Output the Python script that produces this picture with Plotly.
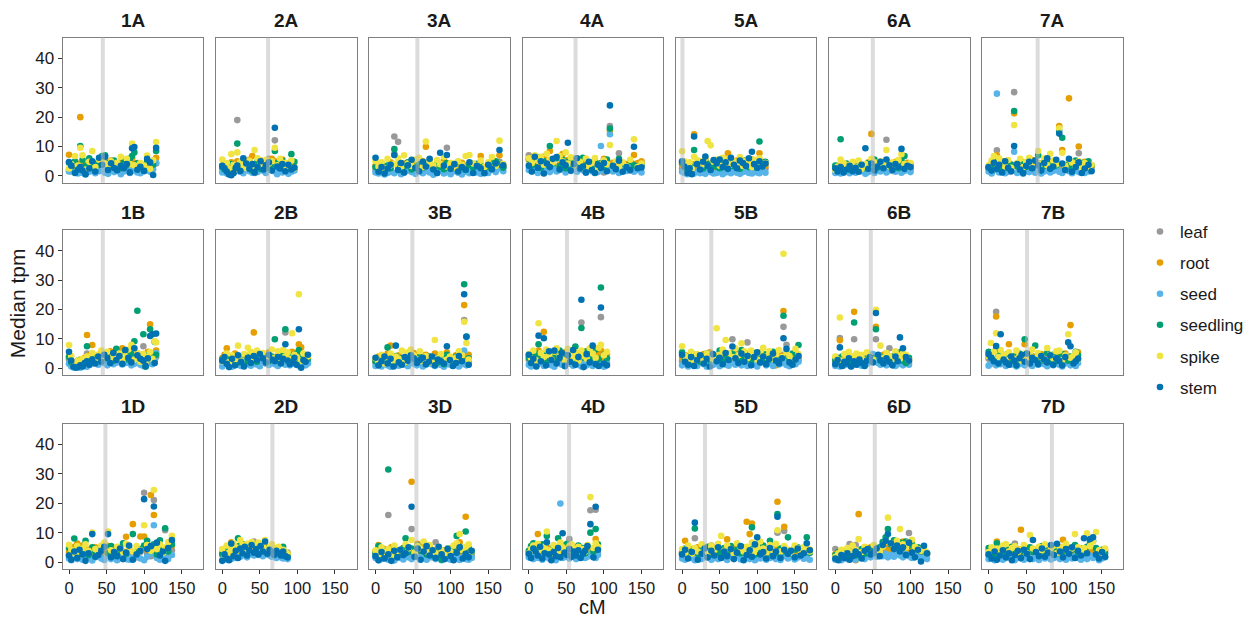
import plotly.graph_objects as go

# ---------------- data (cM position of each gene, median tpm per tissue) ----------------
CHROMS = ["1A", "2A", "3A", "4A", "5A", "6A", "7A",
          "1B", "2B", "3B", "4B", "5B", "6B", "7B",
          "1D", "2D", "3D", "4D", "5D", "6D", "7D"]
TISSUES = ["leaf", "root", "seed", "seedling", "spike", "stem"]
CENTROMERE = [45.0, 61.0, 55.7, 62.2, 0.5, 49.9, 65.3,
              45.0, 61.0, 49.0, 50.8, 38.9, 47.2, 51.2,
              48.5, 66.7, 54.4, 53.6, 30.5, 52.5, 84.3]
X_TICKS = [0, 50, 100, 150]
Y_TICKS = [0, 10, 20, 30, 40]

cm_1A = [0, 3, 8, 12, 15, 18, 22, 27, 31, 35, 40, 44, 48, 52, 56, 60, 64, 69, 73, 77, 81, 84, 87, 91, 95, 100, 104, 108, 112, 116]
leaf_1A = [2.0, 1.5, 2.5, 1.8, 3.0, 2.2, 1.2, 2.8, 3.5, 2.0, 2.6, 1.9, 3.2, 2.4, 2.9, 1.7, 3.1, 2.5, 2.0, 3.4, 2.7, 4.0, 2.2, 3.0, 1.8, 2.6, 3.3, 2.1, 3.6, 4.2]
root_1A = [7.2, 3.0, 2.5, 4.1, 20.0, 3.6, 2.8, 4.5, 3.9, 2.6, 5.0, 4.4, 5.6, 3.7, 5.2, 4.8, 3.3, 4.6, 5.5, 3.0, 4.2, 5.9, 3.8, 4.4, 2.9, 3.5, 4.7, 3.1, 5.0, 6.2]
seed_1A = [1.5, 2.0, 1.2, 0.8, 1.8, 1.0, 0.5, 1.4, 2.2, 0.9, 1.6, 2.5, 1.1, 0.7, 1.9, 1.3, 2.1, 0.6, 1.5, 2.4, 1.0, 1.7, 2.8, 1.2, 0.9, 1.6, 2.0, 1.4, 2.3, 4.5]
seedling_1A = [4.5, 3.2, 5.0, 2.8, 10.2, 5.5, 3.5, 6.0, 2.9, 4.1, 3.7, 6.8, 7.0, 4.4, 3.1, 5.2, 4.0, 2.6, 4.8, 3.6, 5.9, 6.8, 8.0, 4.3, 3.0, 2.5, 5.1, 4.6, 3.8, 8.5]
spike_1A = [2.5, 4.0, 6.8, 3.5, 9.6, 7.0, 2.2, 4.8, 8.5, 3.0, 5.5, 6.0, 4.2, 3.8, 5.0, 2.7, 4.5, 6.5, 3.2, 5.8, 4.0, 11.0, 3.6, 2.9, 4.4, 3.5, 6.9, 2.4, 5.3, 11.5]
stem_1A = [4.7, 3.5, 1.0, 2.2, 3.0, 1.8, 0.6, 2.5, 5.0, 1.5, 6.2, 3.8, 6.5, 2.0, 4.3, 2.7, 1.9, 3.4, 2.6, 4.0, 1.2, 9.4, 9.8, 2.1, 3.1, 1.7, 5.8, 4.6, 0.3, 9.6]

cm_2A = [0, 3, 6, 9, 12, 15, 18, 20, 24, 28, 32, 36, 40, 43, 47, 51, 55, 58, 62, 66, 70, 73, 77, 80, 84, 88, 92, 96]
leaf_2A = [2.5, 3.0, 1.8, 2.2, 3.5, 2.0, 2.8, 19.0, 1.5, 3.8, 2.4, 4.2, 3.0, 1.0, 2.6, 3.3, 2.1, 4.5, 5.8, 3.1, 12.1, 3.7, 2.9, 3.2, 4.0, 2.5, 3.6, 2.2]
root_2A = [3.5, 4.2, 2.8, 3.0, 4.6, 2.5, 3.3, 5.0, 3.8, 4.1, 2.9, 5.5, 6.8, 3.6, 4.4, 5.2, 3.1, 4.7, 3.9, 5.8, 5.0, 4.3, 3.4, 5.6, 4.0, 3.2, 4.8, 3.0]
seed_2A = [1.2, 2.0, 0.8, 1.5, 2.4, 1.0, 1.8, 2.2, 1.4, 0.9, 2.6, 1.6, 1.1, 2.0, 1.3, 2.8, 1.7, 1.0, 3.0, 2.1, 1.5, 0.6, 2.3, 1.2, 1.9, 0.7, 1.4, 1.8]
seedling_2A = [3.0, 2.2, 3.8, 1.5, 4.0, 2.6, 3.4, 11.0, 2.0, 3.2, 4.5, 2.8, 1.8, 3.6, 5.0, 2.4, 4.2, 3.0, 2.7, 3.9, 8.5, 4.4, 3.1, 5.2, 2.9, 3.5, 7.4, 4.8]
spike_2A = [5.6, 3.0, 4.4, 2.5, 7.4, 3.8, 2.0, 8.0, 4.6, 3.2, 2.7, 5.1, 3.5, 8.8, 6.0, 4.0, 3.0, 5.5, 4.2, 5.0, 9.6, 3.6, 5.8, 2.8, 4.5, 3.3, 5.2, 2.6]
stem_2A = [3.4, 2.6, 1.5, 0.5, 0.2, 1.0, 2.8, 3.5, 1.7, 6.0, 4.2, 2.4, 4.0, 1.2, 3.0, 5.0, 2.2, 3.6, 4.6, 1.8, 16.4, 3.2, 2.5, 4.0, 1.6, 3.8, 2.2, 2.8]

cm_3A = [0, 4, 8, 12, 16, 20, 25, 30, 34, 38, 43, 48, 53, 58, 63, 67, 72, 77, 82, 86, 91, 95, 100, 105, 110, 115, 120, 125, 130, 135, 140, 145, 150, 155, 160, 165, 170]
leaf_3A = [2.0, 1.5, 2.8, 3.0, 1.2, 2.4, 13.4, 11.6, 2.2, 3.1, 1.8, 2.6, 3.4, 2.0, 1.6, 2.9, 3.3, 1.4, 2.5, 3.0, 2.1, 9.6, 2.7, 1.9, 3.2, 2.3, 1.7, 2.8, 3.5, 2.0, 1.5, 2.6, 3.8, 2.2, 4.4, 4.8, 3.0]
root_3A = [3.5, 2.8, 4.0, 2.2, 3.3, 4.6, 7.4, 3.0, 2.5, 4.2, 3.6, 2.9, 4.8, 3.4, 5.0, 9.9, 3.8, 2.7, 4.4, 3.2, 5.1, 3.9, 2.6, 4.0, 3.0, 4.5, 3.5, 2.4, 4.1, 3.7, 6.8, 2.9, 3.4, 4.6, 3.1, 7.0, 3.3]
seed_3A = [1.2, 0.8, 1.6, 0.5, 1.0, 1.4, 0.9, 1.8, 0.6, 1.1, 2.0, 1.3, 0.7, 1.5, 0.9, 1.7, 1.2, 0.4, 1.0, 1.9, 0.8, 1.3, 0.6, 1.6, 1.1, 0.5, 1.4, 0.9, 1.8, 1.2, 0.7, 1.5, 1.0, 2.1, 1.3, 2.5, 1.6]
seedling_3A = [3.0, 2.4, 4.2, 1.8, 3.5, 2.6, 9.1, 3.8, 2.0, 3.3, 4.6, 2.2, 3.0, 4.0, 2.8, 3.6, 5.2, 2.5, 3.9, 3.1, 2.3, 4.4, 3.4, 2.7, 4.8, 3.2, 2.1, 3.7, 2.9, 4.1, 3.5, 2.6, 3.0, 4.3, 5.0, 3.8, 2.8]
spike_3A = [5.0, 3.2, 4.6, 2.6, 5.8, 3.6, 4.0, 6.0, 2.8, 7.0, 4.2, 3.4, 5.6, 6.2, 3.0, 11.7, 4.8, 3.5, 5.4, 4.0, 6.5, 3.2, 4.4, 2.9, 5.0, 3.8, 6.8, 7.1, 4.2, 3.6, 5.2, 3.0, 4.6, 6.4, 3.4, 12.0, 4.0]
stem_3A = [6.2, 1.4, 3.0, 0.8, 2.5, 3.8, 7.1, 2.0, 4.4, 1.2, 3.6, 5.5, 2.8, 1.6, 4.8, 3.2, 5.8, 2.2, 1.0, 7.9, 3.5, 7.1, 2.4, 4.0, 1.5, 3.0, 2.1, 4.6, 1.0, 3.4, 2.6, 0.9, 3.8, 2.3, 4.2, 8.8, 3.6]

cm_4A = [0, 4, 8, 12, 16, 20, 24, 28, 32, 37, 41, 45, 49, 52, 56, 60, 64, 68, 72, 76, 80, 84, 88, 92, 96, 100, 104, 108, 112, 116, 120, 125, 130, 135, 140, 145, 150]
leaf_4A = [7.0, 2.5, 3.4, 1.8, 2.8, 3.6, 2.2, 4.0, 3.0, 1.6, 2.7, 3.3, 2.0, 4.2, 2.4, 3.1, 1.9, 2.6, 3.5, 2.1, 3.8, 2.9, 1.5, 3.2, 2.3, 1.2, 2.8, 17.0, 3.4, 2.0, 7.7, 2.6, 3.0, 1.8, 4.0, 2.5, 3.6]
root_4A = [5.5, 6.2, 4.0, 5.0, 3.6, 6.5, 4.4, 8.5, 5.2, 6.0, 3.8, 7.4, 4.6, 5.4, 3.2, 4.8, 6.0, 3.5, 5.0, 4.2, 2.8, 4.6, 5.3, 3.0, 4.1, 5.8, 3.4, 15.3, 4.5, 2.9, 5.2, 3.8, 4.0, 3.2, 7.1, 4.4, 5.0]
seed_4A = [2.0, 1.5, 2.6, 1.0, 2.2, 1.8, 2.9, 1.3, 2.4, 1.6, 2.0, 2.8, 1.2, 2.5, 1.7, 2.1, 1.4, 2.7, 1.9, 1.1, 2.3, 1.6, 2.0, 1.3, 10.2, 1.8, 2.6, 14.2, 1.5, 2.2, 1.0, 2.4, 1.7, 2.9, 1.4, 2.0, 1.2]
seedling_4A = [5.8, 3.6, 4.5, 6.4, 2.8, 5.0, 3.9, 10.2, 4.2, 6.0, 3.3, 5.5, 2.6, 4.8, 3.7, 5.2, 4.0, 2.9, 6.2, 3.5, 4.6, 2.4, 5.0, 3.8, 4.4, 3.1, 5.6, 16.1, 3.4, 2.7, 5.8, 4.2, 3.0, 4.9, 3.6, 2.8, 3.9]
spike_4A = [6.0, 4.4, 7.0, 5.2, 6.5, 3.8, 7.5, 5.6, 4.6, 11.9, 6.8, 5.0, 8.0, 4.2, 6.3, 3.6, 5.4, 4.8, 2.8, 5.9, 3.2, 4.5, 6.1, 2.6, 3.9, 5.3, 4.0, 10.5, 3.5, 5.0, 2.9, 4.6, 3.3, 5.5, 12.5, 3.0, 4.2]
stem_4A = [3.5, 1.5, 6.5, 2.8, 5.0, 0.8, 4.2, 3.0, 5.8, 6.4, 2.2, 4.6, 3.6, 11.3, 1.8, 4.0, 6.0, 2.5, 3.2, 1.2, 4.8, 2.0, 1.0, 3.8, 2.7, 4.4, 1.6, 24.0, 3.4, 2.3, 5.2, 1.4, 3.0, 2.0, 9.9, 2.6, 2.9]

cm_5A = [0, 3, 7, 10, 13, 16, 20, 24, 28, 31, 34, 38, 42, 46, 50, 54, 58, 61, 65, 69, 73, 77, 81, 85, 89, 93, 96, 100, 103, 107, 111]
leaf_5A = [2.6, 1.8, 3.0, 2.2, 1.5, 3.4, 2.0, 2.7, 1.4, 3.1, 2.4, 1.9, 2.8, 3.5, 2.1, 1.6, 2.9, 3.2, 2.3, 1.7, 2.6, 3.0, 1.9, 2.5, 3.3, 2.0, 1.5, 2.8, 2.2, 3.6, 2.4]
root_5A = [3.8, 4.4, 3.0, 2.5, 4.0, 14.2, 3.5, 4.8, 2.9, 5.5, 3.6, 4.2, 3.2, 5.0, 2.7, 4.6, 3.4, 7.7, 4.1, 3.0, 5.2, 3.7, 2.8, 4.5, 3.3, 5.6, 4.0, 3.1, 7.7, 4.8, 3.5]
seed_5A = [1.4, 1.0, 0.6, 1.8, 1.2, 0.8, 1.5, 0.9, 1.1, 0.7, 1.6, 1.3, 0.8, 1.0, 1.7, 0.6, 1.2, 1.4, 0.9, 1.5, 1.1, 0.7, 1.3, 1.6, 1.0, 0.8, 1.4, 1.2, 0.9, 1.7, 1.1]
seedling_5A = [4.5, 3.0, 2.2, 3.6, 2.8, 8.8, 4.2, 3.4, 2.5, 5.0, 3.8, 2.9, 4.4, 3.1, 2.6, 4.8, 3.5, 2.7, 5.2, 3.3, 4.0, 2.4, 3.9, 5.4, 3.0, 4.6, 3.7, 2.8, 11.7, 3.4, 4.8]
spike_5A = [8.4, 5.0, 3.6, 4.6, 2.4, 6.5, 5.4, 3.2, 4.0, 6.0, 11.9, 10.4, 4.8, 5.6, 3.5, 6.2, 4.4, 5.8, 3.8, 5.0, 4.2, 6.4, 3.4, 5.2, 4.6, 3.0, 5.5, 4.0, 6.0, 3.6, 4.4]
stem_5A = [5.0, 3.2, 1.0, 2.6, 0.6, 13.4, 4.0, 2.2, 4.8, 6.6, 3.5, 2.0, 5.4, 4.2, 5.6, 3.0, 4.6, 2.4, 6.2, 3.8, 2.6, 5.2, 4.4, 3.4, 6.0, 8.2, 4.0, 2.8, 5.0, 3.2, 4.2]

cm_6A = [0, 3, 7, 11, 15, 19, 23, 27, 31, 35, 40, 44, 48, 52, 56, 60, 64, 68, 72, 76, 80, 84, 88, 92, 96, 100]
leaf_6A = [3.0, 2.2, 1.6, 2.8, 2.0, 3.4, 1.8, 2.5, 3.2, 2.1, 1.5, 2.9, 3.6, 2.3, 1.9, 2.7, 3.1, 12.3, 2.4, 1.7, 3.0, 2.6, 2.0, 3.3, 2.2, 1.8]
root_6A = [2.5, 3.4, 2.0, 4.0, 2.8, 3.6, 2.2, 4.4, 3.0, 2.6, 3.8, 4.6, 14.3, 3.2, 2.4, 4.2, 3.5, 5.0, 2.9, 3.7, 4.8, 2.7, 3.9, 3.1, 4.5, 2.6]
seed_6A = [1.0, 1.5, 0.8, 1.2, 1.8, 0.9, 1.4, 1.1, 2.0, 1.6, 0.7, 1.3, 1.9, 1.0, 2.2, 1.5, 2.5, 1.2, 1.8, 2.8, 1.4, 2.0, 1.1, 1.7, 2.4, 1.3]
seedling_6A = [3.5, 2.4, 12.5, 3.0, 4.2, 2.2, 3.6, 2.8, 4.0, 3.2, 2.6, 4.4, 3.4, 5.6, 2.9, 4.6, 3.8, 5.0, 3.1, 4.2, 3.6, 2.7, 5.2, 6.8, 3.3, 4.0]
spike_6A = [2.0, 3.2, 5.6, 4.4, 2.6, 3.8, 4.8, 3.0, 5.2, 2.4, 4.0, 3.4, 5.8, 4.6, 3.6, 5.0, 4.2, 8.8, 3.2, 4.6, 3.8, 5.4, 7.4, 4.0, 3.0, 4.4]
stem_6A = [2.6, 1.5, 3.0, 1.2, 2.2, 3.4, 1.6, 2.8, 1.4, 3.8, 9.4, 2.4, 4.2, 1.8, 3.2, 4.8, 2.6, 5.6, 3.6, 2.0, 4.0, 3.0, 9.2, 2.4, 3.4, 3.0]

cm_7A = [0, 4, 7, 11, 14, 18, 22, 26, 30, 34, 38, 42, 46, 50, 54, 58, 62, 66, 70, 74, 78, 82, 86, 90, 94, 98, 102, 107, 111, 116, 120, 124, 128, 133, 137]
leaf_7A = [2.4, 3.0, 1.8, 8.7, 2.6, 3.4, 2.0, 2.8, 1.5, 28.5, 3.2, 2.2, 1.9, 3.6, 2.5, 1.7, 3.0, 2.4, 3.8, 2.1, 2.9, 1.6, 3.3, 2.7, 2.0, 3.5, 2.3, 1.8, 3.1, 2.6, 7.7, 2.2, 3.4, 4.0, 2.8]
root_7A = [3.2, 2.6, 4.0, 7.0, 3.6, 5.0, 2.8, 4.4, 3.0, 21.3, 3.8, 2.4, 4.6, 3.4, 2.0, 5.4, 3.1, 4.2, 2.7, 3.9, 5.2, 3.3, 4.6, 2.9, 17.0, 8.8, 3.6, 26.4, 4.4, 3.2, 10.0, 2.8, 4.8, 3.5, 3.0]
seed_7A = [1.5, 0.8, 2.0, 28.0, 1.2, 1.8, 0.9, 1.4, 2.2, 8.2, 1.0, 1.6, 0.7, 2.4, 1.3, 1.9, 1.1, 2.6, 0.8, 1.5, 2.0, 1.2, 1.7, 2.8, 1.4, 1.0, 2.1, 1.6, 0.9, 1.8, 1.3, 2.3, 1.0, 1.5, 2.0]
seedling_7A = [2.8, 4.2, 3.0, 5.6, 2.4, 3.6, 4.8, 2.6, 3.9, 22.1, 3.2, 2.0, 4.4, 3.0, 5.0, 2.7, 3.8, 7.0, 4.2, 3.4, 5.5, 2.8, 4.0, 3.6, 15.3, 13.0, 3.1, 4.6, 2.5, 5.2, 3.8, 4.4, 2.9, 5.0, 3.6]
spike_7A = [3.6, 5.2, 6.8, 4.0, 6.0, 4.6, 3.2, 5.4, 2.8, 17.3, 4.4, 5.8, 3.0, 4.8, 6.2, 3.5, 5.0, 8.5, 4.2, 6.0, 3.6, 7.5, 5.2, 4.0, 16.2, 7.9, 3.4, 5.6, 4.6, 3.2, 5.0, 2.6, 4.4, 3.0, 3.8]
stem_7A = [3.0, 1.8, 4.5, 2.4, 3.8, 1.2, 5.0, 2.8, 1.6, 10.2, 4.0, 2.2, 1.0, 3.4, 4.8, 2.6, 5.2, 3.6, 1.8, 4.4, 6.0, 2.4, 3.2, 5.5, 14.4, 4.2, 2.0, 5.8, 1.4, 3.0, 4.6, 1.0, 2.5, 3.8, 1.6]

cm_1B = [0, 3, 6, 9, 12, 15, 18, 21, 24, 27, 31, 35, 39, 43, 47, 51, 55, 59, 63, 67, 71, 75, 79, 83, 87, 91, 95, 99, 102, 105, 108, 111, 114, 116]
leaf_1B = [3.0, 1.5, 0.8, 1.2, 0.6, 1.0, 2.0, 1.4, 5.0, 2.6, 3.2, 2.0, 2.8, 3.6, 2.4, 3.0, 1.8, 3.4, 2.2, 4.0, 2.6, 3.1, 1.9, 2.7, 3.3, 2.5, 1.8, 7.5, 3.6, 2.8, 4.2, 3.0, 2.4, 3.8]
root_1B = [4.0, 2.5, 1.2, 2.0, 1.6, 3.0, 2.4, 3.6, 11.3, 4.4, 7.9, 3.2, 4.6, 5.2, 3.8, 4.8, 5.8, 4.2, 6.2, 3.5, 6.8, 4.6, 5.4, 3.9, 4.4, 5.0, 3.6, 4.8, 2.4, 5.6, 15.0, 4.0, 3.2, 6.0]
seed_1B = [1.5, 0.6, 0.3, 0.8, 0.4, 0.2, 0.6, 0.9, 0.5, 1.1, 1.6, 2.0, 1.2, 2.4, 1.7, 1.0, 2.2, 1.4, 1.9, 2.6, 1.3, 1.8, 2.1, 1.0, 1.5, 2.8, 1.2, 0.8, 2.0, 1.6, 2.4, 1.4, 3.0, 5.2]
seedling_1B = [3.8, 2.0, 0.9, 1.6, 2.6, 1.4, 0.8, 2.2, 7.5, 3.0, 2.4, 3.6, 4.2, 2.8, 5.0, 3.4, 4.6, 2.6, 6.6, 3.2, 4.0, 5.4, 3.0, 4.8, 9.2, 19.6, 3.5, 11.6, 0.5, 4.4, 13.3, 3.8, 9.0, 4.6]
spike_1B = [7.9, 4.2, 2.0, 1.2, 2.6, 0.8, 3.2, 1.8, 4.0, 2.4, 5.2, 3.0, 4.6, 6.0, 3.4, 5.6, 2.8, 4.4, 3.6, 5.0, 2.6, 4.2, 6.4, 8.0, 3.0, 5.2, 2.2, 4.8, 1.6, 3.8, 5.5, 3.2, 9.2, 8.8]
stem_1B = [5.6, 2.6, 0.5, 0.2, 0.4, 1.0, 0.6, 1.8, 2.4, 1.2, 3.0, 1.6, 4.0, 2.2, 4.6, 3.4, 1.8, 5.2, 2.8, 4.2, 1.5, 6.2, 3.6, 2.0, 6.8, 4.4, 3.2, 2.6, 0.8, 3.4, 11.0, 11.6, 1.8, 11.8]

cm_2B = [0, 3, 6, 9, 13, 17, 21, 25, 29, 34, 38, 42, 46, 50, 54, 58, 62, 66, 70, 74, 78, 81, 84, 87, 90, 93, 96, 99, 102, 105, 108, 111, 114]
leaf_2B = [2.2, 1.6, 3.0, 2.4, 1.2, 2.8, 3.4, 1.8, 2.6, 3.2, 2.0, 1.5, 3.6, 2.4, 2.9, 1.7, 3.3, 2.2, 2.7, 3.0, 1.9, 2.5, 12.2, 3.5, 2.1, 2.8, 1.6, 3.0, 2.4, 1.8, 3.4, 2.6, 2.0]
root_2B = [3.5, 4.6, 6.8, 3.0, 2.6, 5.0, 3.8, 2.2, 4.4, 3.2, 5.2, 12.2, 3.6, 4.8, 2.8, 4.0, 5.4, 3.4, 2.6, 4.6, 3.0, 5.0, 4.2, 3.6, 4.8, 5.6, 3.0, 4.0, 8.2, 7.1, 3.6, 2.8, 4.4]
seed_2B = [0.6, 1.4, 2.0, 1.0, 0.5, 1.8, 1.2, 0.8, 2.4, 1.5, 0.9, 2.2, 1.3, 0.7, 2.6, 1.6, 1.1, 2.0, 1.4, 0.8, 2.8, 1.7, 1.2, 2.2, 1.0, 1.8, 2.5, 1.3, 0.9, 2.0, 1.4, 1.0, 1.6]
seedling_2B = [3.0, 2.4, 1.8, 3.6, 2.8, 4.2, 2.0, 3.4, 1.0, 2.6, 4.4, 3.2, 2.2, 3.8, 4.6, 3.0, 2.4, 4.0, 9.9, 3.4, 2.8, 4.8, 13.3, 3.6, 2.6, 4.4, 3.0, 5.0, 6.2, 3.8, 2.4, 4.2, 3.2]
spike_2B = [2.4, 3.6, 5.0, 2.0, 4.4, 3.0, 7.7, 2.6, 4.8, 7.0, 5.6, 3.4, 6.0, 4.2, 5.2, 3.0, 4.6, 6.4, 3.6, 5.8, 2.8, 6.2, 4.0, 5.4, 3.2, 11.9, 4.6, 3.8, 25.2, 2.6, 5.0, 3.4, 4.0]
stem_2B = [2.6, 3.8, 1.5, 0.4, 3.2, 1.0, 4.4, 2.2, 0.6, 3.6, 1.8, 4.2, 2.8, 4.8, 3.4, 2.0, 4.6, 3.0, 2.4, 3.8, 1.6, 3.2, 8.2, 2.6, 1.4, 2.0, 3.6, 1.2, 13.3, 0.2, 2.8, 2.2, 4.6]

cm_3B = [0, 4, 8, 12, 16, 20, 24, 27, 31, 35, 39, 43, 47, 51, 55, 59, 63, 67, 71, 75, 79, 83, 87, 91, 95, 99, 103, 107, 111, 115, 118, 121, 124]
leaf_3B = [2.0, 1.4, 2.6, 3.0, 1.8, 2.4, 1.2, 2.8, 2.2, 3.4, 1.6, 2.9, 4.0, 2.5, 1.9, 3.2, 2.1, 1.5, 2.7, 3.6, 2.3, 1.8, 3.0, 2.6, 1.4, 2.2, 3.3, 2.0, 2.8, 3.6, 16.4, 4.2, 2.4]
root_3B = [2.6, 4.0, 3.2, 2.4, 5.0, 7.7, 3.6, 2.8, 4.4, 3.0, 2.2, 4.8, 3.8, 5.2, 2.6, 4.2, 3.4, 4.6, 2.8, 3.6, 5.0, 2.4, 3.2, 4.0, 5.4, 2.8, 3.6, 4.4, 2.6, 5.0, 21.5, 3.8, 4.6]
seed_3B = [0.8, 1.4, 0.6, 1.8, 1.0, 0.5, 1.6, 1.2, 0.9, 2.0, 1.3, 0.7, 2.4, 1.5, 1.0, 1.8, 0.6, 1.2, 2.2, 1.4, 0.8, 1.6, 1.1, 0.5, 2.0, 1.3, 0.9, 1.7, 0.6, 1.4, 6.0, 1.0, 1.8]
seedling_3B = [2.4, 1.2, 3.6, 2.0, 7.1, 3.0, 1.6, 4.2, 2.6, 3.4, 1.8, 2.8, 4.4, 3.2, 2.2, 3.8, 2.6, 1.5, 4.0, 2.4, 3.6, 2.0, 3.0, 1.4, 4.6, 3.4, 2.2, 3.8, 5.0, 2.6, 28.6, 10.8, 3.4]
spike_3B = [3.4, 2.2, 4.6, 1.6, 3.8, 5.0, 2.6, 4.0, 3.2, 6.0, 2.0, 5.4, 6.4, 4.4, 3.0, 5.8, 2.4, 4.2, 3.6, 2.0, 9.6, 3.4, 4.8, 2.6, 3.0, 4.0, 2.2, 3.6, 5.8, 4.4, 15.8, 8.6, 3.0]
stem_3B = [3.6, 1.0, 2.4, 4.0, 1.6, 3.2, 0.6, 7.7, 2.0, 1.2, 3.8, 2.6, 4.4, 3.4, 1.8, 2.8, 3.6, 1.4, 2.2, 4.0, 1.0, 3.0, 2.4, 1.6, 7.5, 2.8, 0.8, 1.8, 4.2, 2.4, 25.2, 10.7, 1.2]

cm_4B = [0, 3, 6, 10, 13, 16, 20, 23, 27, 30, 34, 37, 41, 44, 48, 52, 55, 59, 62, 66, 70, 73, 77, 81, 85, 89, 93, 96, 100, 104]
leaf_4B = [2.8, 2.0, 3.4, 1.6, 2.4, 3.0, 1.8, 2.6, 3.6, 2.2, 1.4, 3.2, 2.0, 2.8, 1.6, 3.4, 2.4, 1.8, 3.0, 2.2, 15.6, 2.6, 3.8, 2.0, 1.6, 3.2, 2.4, 17.4, 2.8, 3.4]
root_4B = [4.4, 3.0, 5.2, 3.6, 6.0, 4.2, 12.4, 3.2, 5.0, 4.6, 3.4, 5.6, 4.0, 3.0, 5.4, 4.4, 3.6, 6.2, 2.8, 5.0, 4.2, 3.4, 5.8, 4.6, 3.2, 5.2, 4.0, 6.0, 3.6, 4.8]
seed_4B = [1.2, 0.6, 2.0, 1.0, 1.6, 2.4, 0.8, 1.4, 2.2, 1.0, 0.5, 1.8, 2.6, 1.2, 0.7, 2.0, 1.5, 0.9, 2.8, 1.3, 0.6, 2.2, 1.0, 1.7, 0.8, 2.4, 1.4, 1.0, 0.5, 1.8]
seedling_4B = [3.6, 4.4, 2.6, 5.0, 8.2, 3.2, 4.8, 2.4, 3.8, 5.4, 4.2, 2.8, 6.0, 3.4, 4.6, 2.6, 5.2, 3.0, 7.4, 4.0, 13.7, 3.6, 5.8, 2.8, 4.4, 6.4, 3.2, 27.5, 4.6, 3.4]
spike_4B = [4.8, 3.4, 6.0, 2.6, 15.3, 5.2, 3.8, 6.4, 4.4, 3.0, 5.6, 6.8, 4.0, 5.0, 2.8, 6.6, 4.6, 3.6, 5.4, 2.6, 6.0, 4.2, 3.2, 6.8, 5.0, 3.6, 7.0, 8.0, 4.4, 5.6]
stem_4B = [4.6, 1.8, 3.2, 0.6, 11.1, 2.4, 10.2, 1.0, 5.8, 2.8, 6.0, 1.6, 3.6, 5.2, 0.8, 4.4, 2.2, 6.2, 1.2, 3.8, 23.3, 0.4, 4.8, 2.0, 7.7, 1.4, 0.8, 20.7, 1.6, 1.0]

cm_5B = [0, 4, 8, 12, 16, 20, 24, 29, 33, 37, 41, 46, 50, 54, 58, 62, 67, 71, 75, 79, 83, 87, 92, 96, 100, 104, 108, 112, 116, 121, 125, 129, 133, 135, 139, 143, 147, 151, 155]
leaf_5B = [2.4, 1.8, 3.0, 2.2, 1.4, 2.8, 3.4, 2.0, 1.6, 3.2, 2.6, 1.9, 3.6, 2.3, 2.8, 1.7, 9.9, 2.5, 3.1, 2.0, 2.7, 8.8, 3.4, 2.1, 1.8, 3.0, 2.4, 1.6, 2.9, 3.5, 2.2, 3.8, 4.6, 14.1, 8.0, 2.6, 3.2, 2.0, 2.8]
root_5B = [3.6, 4.4, 2.8, 5.0, 3.2, 4.0, 2.4, 4.8, 3.6, 5.4, 3.0, 4.2, 2.6, 5.2, 3.8, 4.6, 3.0, 5.6, 3.4, 4.2, 2.8, 5.0, 3.6, 4.4, 3.0, 5.2, 2.6, 4.0, 3.4, 4.8, 1.0, 3.6, 4.2, 19.5, 5.0, 2.4, 3.8, 4.6, 3.2]
seed_5B = [1.0, 1.6, 0.6, 2.0, 1.2, 0.8, 1.8, 1.4, 0.5, 2.2, 1.1, 1.6, 0.7, 2.4, 1.3, 0.9, 1.8, 1.2, 2.6, 1.0, 1.5, 0.8, 2.0, 1.4, 0.6, 1.8, 2.2, 1.0, 1.6, 0.8, 2.0, 1.3, 1.7, 2.5, 1.1, 0.7, 1.9, 1.4, 2.2]
seedling_5B = [5.4, 3.2, 4.0, 2.6, 4.6, 3.4, 2.2, 3.8, 5.0, 2.8, 4.2, 3.6, 6.0, 2.4, 4.4, 3.2, 5.0, 3.8, 2.6, 6.2, 3.4, 4.6, 2.8, 5.2, 3.6, 4.0, 2.4, 4.8, 3.0, 5.6, 4.2, 2.8, 3.6, 17.9, 4.4, 3.2, 5.0, 3.8, 7.9]
spike_5B = [7.5, 4.2, 3.0, 5.6, 2.6, 4.8, 3.6, 2.2, 5.0, 4.0, 3.2, 13.6, 4.6, 6.4, 9.6, 5.2, 3.8, 6.8, 4.4, 8.5, 5.8, 3.4, 6.0, 4.6, 3.0, 5.4, 7.0, 4.0, 5.8, 3.2, 4.6, 6.2, 3.8, 39.0, 5.4, 4.2, 3.0, 6.6, 4.8]
stem_5B = [4.6, 2.2, 1.2, 3.8, 0.8, 2.8, 4.4, 1.6, 3.2, 0.6, 4.8, 2.4, 3.6, 1.4, 5.2, 2.8, 7.4, 3.4, 1.8, 5.0, 2.2, 4.2, 1.0, 3.8, 5.4, 2.0, 4.0, 1.4, 3.2, 5.0, 2.6, 1.6, 3.4, 10.2, 6.6, 2.0, 1.2, 3.0, 4.2]

cm_6B = [0, 3, 6, 9, 12, 15, 18, 21, 25, 28, 32, 35, 39, 42, 46, 50, 54, 57, 60, 64, 68, 72, 76, 80, 83, 86, 90, 94, 98]
leaf_6B = [2.2, 1.6, 10.3, 2.4, 1.8, 3.0, 2.0, 2.6, 9.9, 1.4, 2.8, 3.4, 2.2, 1.6, 3.0, 2.6, 9.9, 2.0, 3.2, 2.4, 1.8, 6.8, 2.6, 3.0, 2.0, 2.8, 3.6, 2.2, 1.8]
root_6B = [3.0, 2.4, 9.5, 3.6, 2.8, 4.2, 3.2, 2.6, 19.2, 3.8, 2.2, 4.4, 3.0, 2.6, 4.0, 3.4, 14.1, 2.8, 3.6, 4.6, 2.4, 3.2, 4.0, 2.6, 3.4, 4.8, 2.2, 3.6, 3.0]
seed_6B = [0.8, 1.4, 0.6, 1.8, 1.0, 2.2, 1.2, 0.7, 1.6, 2.0, 1.3, 0.9, 2.4, 1.5, 3.0, 4.8, 2.6, 1.8, 1.2, 2.2, 1.0, 1.6, 2.4, 0.8, 1.4, 2.0, 1.0, 1.6, 1.2]
seedling_6B = [2.8, 3.6, 2.2, 4.0, 3.0, 2.4, 3.8, 2.6, 15.6, 3.2, 4.4, 2.0, 3.6, 4.8, 2.8, 3.4, 13.3, 4.2, 2.6, 3.8, 5.0, 3.2, 2.4, 4.6, 3.0, 5.4, 2.6, 1.8, 3.6]
spike_6B = [4.0, 3.0, 17.3, 2.6, 4.8, 3.4, 5.6, 4.2, 3.6, 5.0, 3.2, 4.6, 2.8, 5.4, 4.0, 3.0, 19.9, 4.4, 7.7, 3.6, 5.2, 4.0, 3.0, 5.8, 4.4, 3.2, 5.0, 4.6, 2.6]
stem_6B = [1.4, 2.8, 7.1, 0.8, 2.2, 1.6, 3.4, 0.6, 2.4, 1.2, 3.0, 1.8, 0.8, 2.6, 3.8, 2.0, 18.8, 4.6, 2.8, 1.6, 3.4, 2.2, 1.0, 4.0, 2.4, 10.5, 6.8, 3.8, 2.6]

cm_7B = [0, 3, 7, 10, 13, 16, 20, 23, 27, 30, 34, 37, 41, 44, 48, 51, 55, 58, 62, 66, 70, 74, 78, 82, 86, 90, 94, 98, 102, 106, 109, 113, 116, 119]
leaf_7B = [3.2, 2.2, 1.6, 19.2, 2.6, 1.8, 3.0, 2.4, 1.4, 2.8, 2.0, 3.4, 1.8, 2.6, 3.2, 2.2, 1.6, 2.8, 3.6, 2.0, 2.4, 1.5, 3.0, 2.2, 2.8, 1.8, 3.4, 2.4, 2.0, 3.0, 2.6, 1.6, 2.8, 3.2]
root_7B = [4.0, 3.4, 2.8, 17.6, 3.6, 4.4, 3.0, 2.6, 8.2, 4.0, 3.2, 2.4, 4.6, 3.8, 8.2, 2.8, 3.4, 4.2, 2.6, 3.6, 4.8, 3.0, 2.4, 4.4, 3.2, 2.6, 4.0, 3.4, 5.0, 2.8, 14.7, 3.6, 4.2, 5.4]
seed_7B = [0.9, 1.6, 2.4, 1.0, 3.0, 1.4, 2.0, 0.8, 1.8, 1.2, 2.6, 0.6, 1.4, 2.2, 1.0, 3.2, 1.6, 0.8, 2.0, 1.2, 2.8, 1.4, 0.7, 1.8, 1.0, 2.4, 1.2, 0.6, 1.6, 2.0, 1.0, 1.4, 0.8, 1.8]
seedling_7B = [5.6, 4.4, 3.0, 6.6, 4.0, 5.0, 2.8, 4.6, 3.6, 2.4, 4.2, 3.2, 5.0, 2.6, 9.9, 3.8, 4.4, 2.8, 7.7, 3.4, 4.0, 2.6, 5.2, 3.0, 4.6, 2.4, 3.6, 4.8, 3.2, 2.6, 4.0, 3.0, 5.6, 4.4]
spike_7B = [4.2, 8.6, 5.6, 11.9, 3.8, 6.2, 4.6, 2.8, 5.4, 4.0, 3.2, 6.0, 4.4, 2.6, 5.0, 3.6, 4.8, 6.4, 3.4, 5.2, 4.0, 3.0, 6.9, 4.6, 3.4, 5.8, 6.0, 2.8, 4.4, 11.6, 3.6, 4.2, 5.4, 3.0]
stem_7B = [4.8, 3.6, 2.4, 7.6, 1.6, 11.6, 3.0, 2.0, 1.2, 4.0, 2.6, 1.0, 3.4, 4.6, 2.2, 5.0, 1.6, 3.6, 2.8, 1.4, 4.2, 3.0, 2.0, 4.4, 1.2, 3.4, 2.6, 1.0, 3.8, 8.8, 7.5, 1.6, 2.4, 3.2]

cm_1D = [0, 3, 7, 11, 14, 18, 22, 26, 31, 35, 39, 43, 47, 52, 56, 60, 64, 68, 72, 76, 80, 85, 90, 95, 100, 104, 109, 113, 117, 121, 125, 128, 132, 137]
leaf_1D = [2.6, 1.8, 3.2, 2.2, 1.4, 2.8, 3.6, 2.0, 1.6, 3.0, 2.4, 1.8, 3.4, 2.6, 2.0, 1.5, 2.8, 3.2, 2.2, 1.8, 3.0, 2.4, 1.6, 3.4, 23.6, 2.8, 2.0, 21.1, 3.6, 2.2, 3.0, 10.8, 2.6, 4.0]
root_1D = [3.4, 4.6, 5.2, 6.3, 3.0, 5.6, 2.8, 4.2, 3.6, 5.0, 2.6, 4.4, 3.8, 5.4, 3.2, 4.6, 2.4, 5.0, 3.6, 8.6, 4.0, 12.9, 3.4, 8.7, 8.7, 4.2, 22.8, 16.0, 3.8, 5.2, 4.6, 3.0, 4.4, 5.6]
seed_1D = [1.2, 0.6, 1.8, 1.0, 2.4, 0.8, 1.4, 2.0, 0.5, 1.6, 2.6, 1.2, 0.7, 2.2, 1.0, 1.8, 0.6, 1.4, 2.4, 1.0, 0.8, 1.6, 2.0, 1.2, 0.6, 1.8, 2.8, 12.5, 1.4, 0.8, 2.2, 1.6, 1.0, 2.4]
seedling_1D = [4.8, 3.2, 8.0, 2.6, 4.4, 3.6, 7.2, 2.4, 5.0, 3.4, 2.8, 4.6, 6.2, 3.0, 5.4, 2.2, 4.0, 3.6, 6.4, 2.8, 4.8, 9.5, 3.2, 4.4, 5.6, 7.2, 3.8, 6.0, 2.6, 7.4, 4.2, 11.5, 3.6, 6.0]
spike_1D = [5.9, 4.2, 3.0, 5.4, 2.6, 4.6, 6.0, 3.8, 10.0, 4.4, 3.2, 5.6, 6.6, 10.4, 4.0, 3.0, 5.2, 4.6, 3.4, 6.2, 4.8, 3.6, 5.4, 4.0, 12.5, 5.8, 3.8, 24.5, 4.4, 6.0, 3.2, 5.0, 6.8, 8.9]
stem_1D = [2.2, 0.8, 3.6, 1.4, 4.2, 2.6, 0.4, 3.0, 9.5, 1.8, 2.4, 3.8, 5.2, 9.5, 1.6, 3.4, 2.0, 4.6, 1.0, 3.2, 5.6, 0.8, 2.6, 3.8, 21.4, 4.4, 5.4, 18.9, 6.6, 2.2, 3.6, 0.4, 4.8, 7.5]

cm_2D = [0, 3, 6, 9, 12, 15, 18, 21, 24, 27, 30, 33, 36, 39, 42, 45, 48, 51, 54, 57, 60, 63, 66, 69, 72, 75, 78, 81, 84, 87]
leaf_2D = [2.4, 3.0, 2.0, 3.6, 2.8, 4.0, 3.2, 2.6, 4.4, 3.4, 5.0, 3.8, 4.6, 3.0, 7.0, 4.2, 3.6, 4.8, 3.2, 4.0, 3.6, 2.8, 4.4, 3.0, 3.8, 2.6, 3.4, 4.0, 2.8, 3.2]
root_2D = [3.0, 2.4, 4.2, 3.6, 6.7, 4.8, 3.2, 5.4, 4.0, 6.0, 3.8, 5.0, 4.4, 5.6, 3.6, 4.8, 5.2, 4.0, 3.4, 5.8, 4.6, 3.8, 4.2, 3.2, 4.6, 3.6, 2.8, 3.8, 3.2, 2.6]
seed_2D = [0.6, 1.2, 0.9, 1.6, 1.0, 2.0, 1.4, 2.4, 1.8, 2.2, 2.8, 1.6, 2.6, 3.0, 2.2, 2.8, 2.4, 3.2, 2.0, 2.6, 3.0, 2.2, 1.8, 2.6, 1.4, 2.0, 1.6, 1.2, 1.8, 1.0]
seedling_2D = [2.8, 3.4, 2.2, 4.6, 3.6, 5.2, 4.0, 8.1, 5.6, 4.4, 6.0, 5.0, 4.2, 5.6, 4.8, 6.2, 5.2, 4.0, 5.4, 4.6, 3.8, 4.2, 5.0, 3.6, 4.4, 3.2, 4.0, 5.2, 3.0, 2.4]
spike_2D = [4.4, 2.2, 5.6, 3.2, 4.2, 6.4, 5.0, 3.8, 7.5, 5.8, 4.4, 6.2, 5.2, 6.8, 4.6, 5.6, 6.6, 4.8, 5.4, 7.5, 4.2, 5.0, 6.0, 3.8, 4.6, 5.2, 3.4, 4.2, 3.6, 2.8]
stem_2D = [0.4, 2.6, 1.2, 0.6, 6.3, 2.0, 3.8, 1.4, 4.6, 3.0, 5.2, 2.2, 4.0, 5.8, 3.2, 4.4, 2.6, 5.4, 3.6, 7.0, 2.8, 4.2, 3.4, 2.4, 3.8, 3.0, 2.2, 3.6, 2.0, 1.6]

cm_3D = [0, 4, 8, 12, 17, 21, 25, 29, 33, 37, 40, 44, 48, 52, 56, 60, 64, 68, 72, 76, 80, 84, 88, 92, 96, 100, 104, 108, 112, 116, 120, 124, 128]
leaf_3D = [2.4, 1.8, 3.0, 2.2, 16.0, 1.6, 2.8, 3.4, 2.0, 1.4, 2.6, 3.2, 11.2, 2.4, 1.8, 3.0, 2.2, 3.6, 2.8, 1.6, 6.7, 2.4, 3.0, 1.8, 2.6, 3.4, 2.0, 2.8, 3.2, 1.6, 2.4, 3.0, 2.2]
root_3D = [3.6, 5.8, 2.8, 4.4, 3.2, 5.0, 2.4, 4.0, 3.4, 4.8, 2.6, 3.8, 27.3, 4.4, 6.2, 3.0, 5.4, 4.6, 3.6, 2.8, 4.2, 5.0, 3.2, 4.0, 2.6, 4.6, 3.4, 5.2, 6.7, 3.0, 15.4, 4.2, 3.6]
seed_3D = [1.4, 0.6, 1.0, 1.8, 0.8, 1.2, 0.5, 2.0, 1.4, 0.9, 2.2, 1.6, 1.0, 2.6, 1.8, 1.2, 2.4, 0.8, 1.6, 2.0, 1.0, 1.4, 0.6, 1.8, 1.2, 0.8, 2.0, 1.4, 0.7, 1.6, 1.0, 0.8, 1.4]
seedling_3D = [3.2, 5.4, 2.4, 4.0, 31.5, 3.0, 4.4, 2.2, 3.6, 4.8, 8.1, 3.4, 4.6, 2.8, 5.6, 3.8, 4.2, 2.6, 5.0, 3.2, 1.6, 4.4, 0.8, 3.0, 4.6, 2.4, 3.6, 8.9, 5.2, 3.8, 10.4, 4.8, 3.4]
spike_3D = [4.0, 2.6, 5.0, 3.4, 4.4, 2.2, 5.6, 3.8, 4.2, 2.8, 6.0, 4.6, 7.5, 3.2, 5.4, 4.6, 7.0, 3.6, 5.8, 4.2, 3.0, 5.2, 3.8, 2.6, 4.4, 3.4, 5.6, 6.4, 9.5, 4.0, 5.2, 6.0, 3.6]
stem_3D = [2.0, 0.6, 3.4, 1.2, 2.6, 0.4, 3.8, 1.6, 4.2, 2.4, 3.0, 5.0, 18.8, 1.8, 4.6, 0.8, 3.6, 5.4, 2.2, 4.0, 1.4, 5.2, 2.6, 1.0, 4.4, 2.0, 0.6, 3.2, 5.0, 1.2, 2.8, 1.6, 3.8]

cm_4D = [0, 3, 6, 9, 12, 15, 18, 21, 24, 27, 30, 33, 36, 39, 42, 45, 48, 51, 54, 57, 60, 63, 66, 69, 72, 75, 78, 82, 86, 89, 92]
leaf_4D = [2.6, 3.2, 2.0, 3.8, 2.4, 1.8, 3.0, 2.6, 3.4, 2.0, 1.6, 2.8, 3.6, 2.2, 3.0, 2.4, 1.8, 3.2, 7.8, 2.6, 2.0, 3.4, 2.8, 2.2, 3.0, 1.8, 2.4, 17.6, 3.6, 17.8, 3.0]
root_4D = [3.4, 4.6, 2.8, 5.6, 9.5, 3.8, 4.4, 3.0, 5.0, 4.2, 2.6, 3.6, 4.8, 3.2, 5.4, 4.0, 3.4, 5.2, 6.0, 4.4, 3.0, 4.8, 3.6, 2.8, 4.2, 3.4, 5.0, 4.4, 3.8, 7.8, 4.6]
seed_4D = [1.6, 2.2, 1.0, 2.8, 1.4, 2.0, 0.8, 1.8, 2.6, 1.2, 2.4, 1.6, 0.6, 2.2, 19.9, 1.4, 2.0, 2.6, 1.2, 1.8, 2.4, 1.0, 2.8, 1.6, 2.2, 1.4, 1.8, 2.6, 2.0, 1.4, 2.4]
seedling_4D = [3.8, 5.4, 6.4, 4.2, 5.0, 3.4, 6.0, 4.6, 8.9, 3.6, 2.8, 5.2, 4.0, 8.1, 3.0, 5.8, 4.4, 6.2, 3.8, 5.0, 4.2, 3.2, 5.6, 4.0, 4.8, 3.0, 5.4, 10.0, 3.6, 11.2, 6.0]
spike_4D = [3.0, 4.4, 5.6, 3.6, 6.2, 4.8, 3.4, 5.2, 10.4, 4.0, 3.0, 5.8, 4.4, 3.6, 6.6, 5.0, 4.2, 3.2, 5.4, 6.0, 4.6, 3.8, 5.2, 2.8, 4.4, 3.6, 5.8, 22.1, 4.8, 6.4, 5.2]
stem_4D = [2.8, 1.4, 4.6, 3.6, 2.2, 5.2, 1.2, 3.0, 6.7, 2.6, 0.6, 3.4, 2.0, 4.8, 1.6, 9.8, 3.2, 2.4, 4.4, 1.8, 3.6, 2.2, 4.0, 1.4, 2.8, 3.8, 5.4, 12.9, 1.6, 18.8, 4.2]

cm_5D = [0, 4, 8, 13, 17, 21, 26, 30, 34, 39, 43, 48, 52, 56, 60, 65, 69, 73, 78, 82, 86, 90, 93, 97, 100, 104, 108, 112, 117, 121, 125, 127, 131, 136, 141, 145, 150, 154, 158, 162, 166, 170]
leaf_5D = [2.4, 3.0, 1.8, 2.6, 8.1, 2.0, 3.4, 2.2, 1.6, 2.8, 3.2, 2.0, 2.6, 3.6, 1.8, 2.4, 3.0, 2.2, 1.6, 2.8, 3.4, 2.0, 2.6, 1.8, 3.2, 2.4, 3.0, 2.2, 1.6, 2.8, 3.6, 10.0, 2.4, 10.6, 3.0, 2.2, 2.8, 1.8, 3.4, 2.6, 2.0, 3.2]
root_5D = [3.4, 7.2, 2.8, 4.4, 3.6, 5.0, 2.6, 4.2, 3.4, 5.6, 3.0, 4.6, 3.8, 2.6, 7.7, 4.0, 3.2, 5.2, 2.8, 4.4, 13.7, 9.5, 13.1, 3.6, 5.0, 2.6, 4.2, 3.4, 5.4, 2.8, 4.6, 20.5, 3.2, 12.0, 4.0, 3.0, 4.8, 2.6, 3.8, 4.4, 3.0, 4.2]
seed_5D = [1.2, 0.8, 1.8, 1.4, 0.6, 2.0, 1.0, 1.6, 2.4, 0.8, 1.4, 1.0, 2.2, 1.6, 0.7, 1.8, 1.2, 2.6, 0.9, 1.4, 2.0, 1.0, 1.6, 0.6, 2.2, 1.2, 1.8, 0.8, 1.4, 2.4, 1.0, 1.6, 0.7, 2.0, 1.2, 1.8, 0.9, 1.5, 2.2, 1.1, 1.4, 0.8]
seedling_5D = [3.0, 4.6, 2.4, 3.6, 11.4, 2.8, 4.0, 3.2, 5.2, 2.6, 4.4, 3.4, 2.2, 4.8, 3.6, 5.4, 2.8, 4.2, 3.0, 5.0, 3.6, 4.4, 11.8, 2.6, 4.8, 3.4, 5.6, 2.8, 7.2, 4.0, 3.2, 16.3, 4.6, 3.6, 8.4, 2.8, 4.2, 5.0, 3.4, 4.6, 8.4, 3.2]
spike_5D = [4.4, 3.0, 5.6, 2.8, 4.8, 3.6, 6.0, 4.2, 3.2, 5.4, 4.0, 6.2, 8.9, 3.8, 5.6, 4.4, 3.0, 6.4, 4.8, 3.6, 5.2, 4.2, 6.6, 3.4, 5.0, 7.0, 4.6, 3.2, 5.8, 4.0, 6.2, 10.8, 3.6, 5.4, 4.2, 3.0, 5.6, 4.8, 3.8, 5.0, 4.4, 3.6]
stem_5D = [2.6, 4.2, 1.2, 3.4, 13.4, 0.8, 2.8, 4.6, 1.6, 3.8, 2.2, 5.0, 1.4, 3.6, 2.0, 4.4, 1.0, 3.2, 5.4, 0.6, 2.4, 4.0, 1.8, 6.0, 8.4, 2.6, 3.4, 1.2, 4.8, 2.0, 3.6, 15.4, 1.4, 4.2, 2.8, 3.8, 1.6, 4.6, 2.2, 3.0, 6.4, 4.0]

cm_6D = [0, 4, 8, 12, 16, 19, 23, 27, 31, 35, 39, 43, 47, 51, 55, 59, 63, 67, 70, 74, 78, 82, 86, 90, 94, 98, 102, 106, 110, 114, 118, 122]
leaf_6D = [4.4, 2.0, 2.8, 1.6, 3.4, 6.1, 2.4, 5.8, 3.0, 2.2, 3.6, 2.6, 3.2, 4.0, 2.4, 3.6, 5.0, 4.4, 6.0, 3.8, 5.2, 4.6, 3.4, 5.6, 4.0, 9.9, 4.8, 3.2, 4.2, 2.8, 3.6, 2.4]
root_6D = [2.6, 1.0, 3.4, 2.2, 4.0, 2.8, 3.6, 0.6, 16.3, 3.0, 4.4, 2.6, 5.0, 3.8, 4.6, 3.2, 5.4, 6.6, 4.2, 5.8, 3.6, 6.2, 4.4, 7.0, 5.0, 4.6, 6.0, 3.8, 4.4, 3.0, 3.6, 2.8]
seed_6D = [0.8, 1.4, 0.6, 1.8, 1.0, 2.2, 1.2, 0.8, 2.0, 1.4, 1.0, 2.6, 1.6, 3.0, 1.8, 2.4, 2.0, 2.8, 1.6, 2.4, 1.8, 3.0, 2.2, 1.6, 2.6, 2.0, 1.4, 1.8, 2.2, 1.2, 1.6, 1.0]
seedling_6D = [2.4, 3.4, 1.8, 3.0, 2.6, 4.0, 3.2, 2.2, 3.8, 4.4, 2.8, 3.6, 4.6, 3.0, 4.2, 5.0, 6.8, 8.4, 11.2, 6.0, 7.4, 5.2, 6.6, 4.8, 7.0, 5.6, 6.2, 4.4, 5.0, 3.6, 4.2, 3.0]
spike_6D = [1.8, 3.0, 4.2, 2.6, 4.8, 3.6, 5.6, 4.2, 7.8, 3.4, 5.2, 4.0, 3.0, 5.8, 4.4, 3.6, 5.2, 7.0, 15.1, 6.4, 5.4, 7.2, 11.2, 6.0, 5.0, 6.8, 7.6, 5.2, 4.4, 3.8, 4.6, 3.2]
stem_6D = [1.2, 0.6, 2.4, 1.4, 3.0, 0.8, 2.0, 3.6, 2.6, 1.2, 3.8, 4.4, 2.6, 3.2, 4.6, 2.0, 5.8, 7.2, 9.5, 6.4, 4.4, 5.6, 3.6, 5.0, 2.4, 6.6, 3.2, 1.6, 4.2, 0.2, 5.5, 3.0]

cm_7D = [0, 4, 8, 11, 15, 19, 23, 27, 31, 35, 39, 43, 47, 51, 55, 59, 63, 67, 71, 75, 79, 83, 87, 91, 95, 99, 103, 107, 111, 115, 119, 123, 127, 131, 135, 139, 143, 147, 151, 155]
leaf_7D = [2.4, 3.0, 1.8, 2.6, 3.4, 2.0, 2.8, 1.6, 3.2, 6.3, 2.2, 3.0, 2.4, 1.8, 3.6, 2.6, 3.0, 2.0, 2.8, 3.4, 2.2, 1.6, 3.0, 2.6, 2.0, 3.4, 2.4, 1.8, 3.0, 2.6, 3.6, 2.2, 2.8, 3.2, 4.0, 2.4, 3.0, 2.0, 2.6, 1.8]
root_7D = [3.6, 2.8, 4.2, 7.0, 3.2, 4.6, 2.6, 3.8, 5.0, 3.0, 4.4, 11.0, 3.4, 2.6, 4.8, 3.6, 4.2, 2.8, 5.2, 3.4, 4.0, 2.6, 4.6, 3.2, 5.0, 7.6, 3.6, 4.4, 2.8, 5.4, 3.8, 4.2, 3.0, 4.8, 6.0, 3.6, 4.4, 2.8, 3.4, 4.0]
seed_7D = [1.0, 1.6, 0.6, 1.2, 2.0, 0.8, 1.4, 2.2, 1.0, 0.6, 1.8, 1.2, 0.8, 2.4, 1.4, 1.0, 1.6, 0.7, 2.0, 1.2, 1.8, 0.9, 1.4, 2.2, 1.0, 1.6, 0.8, 1.8, 1.2, 2.0, 1.4, 0.8, 1.6, 1.0, 2.2, 1.4, 1.8, 0.6, 1.2, 1.6]
seedling_7D = [4.8, 3.2, 2.6, 6.4, 3.8, 2.8, 4.4, 3.0, 5.2, 4.0, 2.6, 3.6, 4.6, 3.0, 5.0, 3.4, 4.2, 2.8, 5.4, 3.6, 4.0, 3.2, 5.0, 2.8, 4.4, 3.8, 5.6, 3.0, 4.2, 5.8, 3.4, 4.6, 3.0, 5.2, 6.8, 7.2, 4.8, 3.6, 4.2, 3.0]
spike_7D = [3.4, 5.0, 3.8, 4.6, 2.8, 5.6, 6.1, 3.6, 4.8, 5.4, 3.2, 4.4, 5.8, 3.0, 9.2, 4.6, 3.6, 5.2, 4.0, 6.0, 3.4, 4.8, 5.6, 3.0, 4.4, 5.2, 6.2, 3.8, 4.6, 9.5, 5.0, 3.6, 4.8, 9.8, 5.4, 7.0, 10.2, 4.0, 3.2, 4.6]
stem_7D = [2.6, 1.2, 3.6, 0.8, 2.2, 4.0, 1.6, 3.0, 0.6, 2.4, 3.8, 1.4, 4.2, 2.8, 1.0, 7.5, 3.4, 2.0, 4.6, 1.8, 3.2, 5.8, 2.4, 6.2, 3.6, 1.6, 4.4, 2.8, 5.0, 1.4, 3.8, 2.2, 8.1, 3.0, 7.8, 8.4, 2.6, 1.2, 3.4, 1.8]

# table built from the named lists above
G = globals()
PANELS = {}
for c in CHROMS:
    pos = G["cm_" + c]
    vals = {t: G[t + "_" + c] for t in TISSUES}
    for t, v in vals.items():
        if len(v) != len(pos):
            raise ValueError(f"length mismatch {t}_{c}: {len(v)} vs {len(pos)}")
    PANELS[c] = (pos, vals)

# ---------------- styling ----------------
COLORS = {"leaf": "#999999", "root": "#E69F00", "seed": "#56B4E9",
          "seedling": "#009E73", "spike": "#F0E442", "stem": "#0072B2"}
FONT = "Liberation Sans, Arial, Helvetica, sans-serif"
TEXT = "#1a1a1a"
W, H = 1254, 621
X_RANGE = [-8.4, 178.8]
Y_RANGE = [-2.35, 47.1]
LEFT0, STEP_X, PW = 62.7, 153.27, 140.6
TOPS, PH = [37.7, 231.0, 425.7], 146.0

fig = go.Figure()
layout = dict(
    width=W, height=H, margin=dict(l=0, r=0, t=0, b=0),
    paper_bgcolor="white", plot_bgcolor="white",
    font=dict(family=FONT, color=TEXT),
    showlegend=True,
    legend=dict(x=1140 / W, xanchor="left", y=1 - 215 / H, yanchor="top",
                font=dict(size=17, family=FONT, color=TEXT),
                tracegroupgap=6, itemwidth=30, bgcolor="rgba(0,0,0,0)"),
)
annotations, shapes = [], []

for i, c in enumerate(CHROMS):
    k = i + 1
    row, col = divmod(i, 7)
    left = LEFT0 + col * STEP_X
    top = TOPS[row]
    xa = "xaxis" if k == 1 else f"xaxis{k}"
    ya = "yaxis" if k == 1 else f"yaxis{k}"
    xr = "x" if k == 1 else f"x{k}"
    yr = "y" if k == 1 else f"y{k}"
    bottom_row = row == 2
    left_col = col == 0
    layout[xa] = dict(domain=[left / W, (left + PW) / W], range=X_RANGE, anchor=yr,
                      showgrid=False, zeroline=False, showline=True, mirror=True,
                      linecolor="#7f7f7f", linewidth=1.1,
                      tickmode="array", tickvals=X_TICKS,
                      ticks="outside" if bottom_row else "", ticklen=4, tickwidth=1.3,
                      tickcolor="#333333", showticklabels=bottom_row,
                      tickfont=dict(size=16.5, family=FONT, color=TEXT), fixedrange=True)
    layout[ya] = dict(domain=[1 - (top + PH) / H, 1 - top / H], range=Y_RANGE, anchor=xr,
                      showgrid=False, zeroline=False, showline=True, mirror=True,
                      linecolor="#7f7f7f", linewidth=1.1,
                      tickmode="array", tickvals=Y_TICKS,
                      ticks="outside" if left_col else "", ticklen=4, tickwidth=1.3,
                      tickcolor="#333333", showticklabels=left_col,
                      tickfont=dict(size=17, family=FONT, color=TEXT), fixedrange=True)

    pos, vals = PANELS[c]
    for t in TISSUES:
        fig.add_trace(go.Scatter(
            x=pos, y=vals[t], mode="markers", name=t, legendgroup=t,
            showlegend=(k == 1), xaxis=xr, yaxis=yr,
            marker=dict(color=COLORS[t], size=6.6, line=dict(width=0)),
            hovertemplate=c + " " + t + ": %{x} cM, %{y} tpm<extra></extra>"))

    shapes.append(dict(type="line", xref=xr, yref=yr + " domain",
                       x0=CENTROMERE[i], x1=CENTROMERE[i], y0=0, y1=1,
                       line=dict(color="rgba(185,185,185,0.5)", width=4), layer="above"))

    annotations.append(dict(text="<b>" + c + "</b>", xref="paper", yref="paper",
                            x=(left + PW / 2) / W, y=1 - (top - 17) / H,
                            xanchor="center", yanchor="middle", showarrow=False,
                            font=dict(size=19, family=FONT, color=TEXT)))

annotations.append(dict(text="cM", xref="paper", yref="paper",
                        x=(LEFT0 + 6 * STEP_X + PW + LEFT0) / 2 / W, y=1 - 610 / H,
                        xanchor="center", yanchor="middle", showarrow=False,
                        font=dict(size=20, family=FONT, color=TEXT)))
annotations.append(dict(text="Median tpm", xref="paper", yref="paper",
                        x=17 / W, y=1 - (TOPS[0] + TOPS[2] + PH) / 2 / H,
                        xanchor="center", yanchor="middle", textangle=-90, showarrow=False,
                        font=dict(size=21, family=FONT, color=TEXT)))

layout["annotations"] = annotations
layout["shapes"] = shapes
fig.update_layout(**layout)
fig.write_html("out.html", config={"displayModeBar": False},
               post_script="document.body.style.margin='0';document.body.style.overflow='hidden';")
